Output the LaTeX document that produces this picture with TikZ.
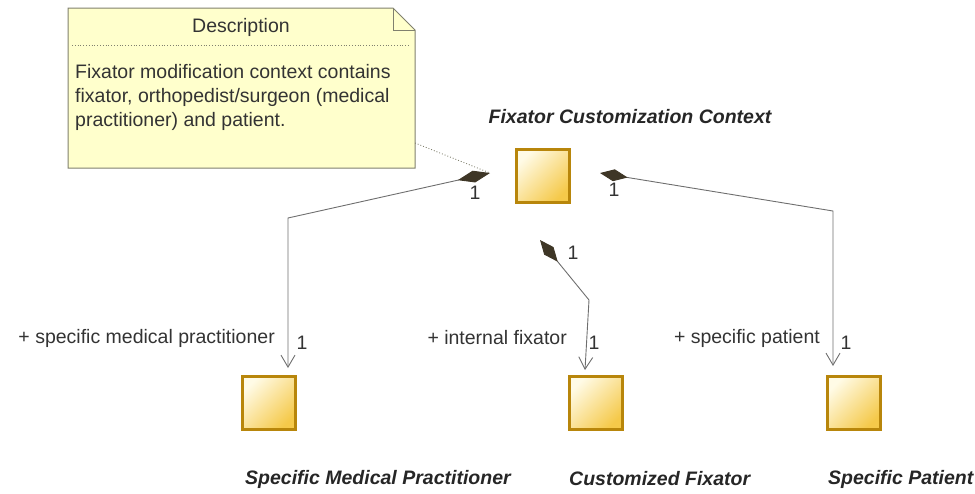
\documentclass[tikz,border=0pt]{standalone}
\usepackage{fontspec}
\setmainfont{Liberation Sans}
\usetikzlibrary{arrows.meta}
\definecolor{notefill}{HTML}{FFFFCC}
\definecolor{noteline}{HTML}{80806E}
\definecolor{boxline}{HTML}{B8860B}
\definecolor{boxlight}{HTML}{FFFBE6}
\definecolor{boxdark}{HTML}{F5C94A}
\definecolor{conn}{HTML}{6E6E6E}
\definecolor{diam}{HTML}{3E3626}
\tikzset{
  cls/.style={draw=boxline, line width=3pt, minimum width=53pt, minimum height=53pt, inner sep=0pt,
    top color=boxlight, bottom color=boxdark, shading angle=45},
  clsname/.style={font=\fontsize{19.5}{23}\selectfont\bfseries\itshape, text=black!85, inner sep=0pt},
  lbl/.style={font=\fontsize{19.5}{23}\selectfont, text=black!80, inner sep=0pt},
  comp/.style={draw=conn, line width=0.9pt, {Diamond[length=33pt,width=12pt,fill=diam,color=diam]}-{Straight Barb[length=12pt,width=14pt]}},
  comp2/.style={draw=conn, line width=0.9pt, {Diamond[length=28pt,width=12pt,fill=diam,color=diam]}-{Straight Barb[length=12pt,width=14pt]}},
}
\begin{document}
\begin{tikzpicture}[x=1pt,y=-1pt]
\useasboundingbox (0,0) rectangle (975,493);
% note
\draw[noteline, fill=notefill, line width=1pt] (68,8) -- (393,8) -- (415,30) -- (415,168) -- (68,168) -- cycle;
\draw[noteline, line width=1pt] (393,8) -- (393,30) -- (415,30);
\node[lbl, anchor=center] (notetitle) at (241,27) {Description};
\draw[noteline, dotted, line width=0.8pt] (72,45) -- (410,45);
\node[lbl, anchor=north west, align=left, font=\fontsize{19.5}{24}\selectfont] (notetext) at (75,64)
  {Fixator modification context contains\\fixator, orthopedist/surgeon (medical\\practitioner) and patient.};
\coordinate (noteanchor) at (415,143);
% classes
\node[cls] (ctx) at (543,176) {};
\node[clsname] (ctxname) at (630,117) {Fixator Customization Context};
\node[cls] (smp) at (269,403) {};
\node[clsname, anchor=west] (smpname) at (245,479) {Specific Medical Practitioner};
\node[cls] (cf) at (596,403) {};
\node[clsname, anchor=west] (cfname) at (569,479) {Customized Fixator};
\node[cls] (sp) at (854,403) {};
\node[clsname, anchor=west] (spname) at (828,479) {Specific Patient};
% anchor coordinates
\coordinate (d1) at (490,173);
\coordinate (b1) at (288,218);
\coordinate (a1) at (288,368);
\coordinate (d2) at (540,240);
\coordinate (b2) at (589,300);
\coordinate (a2) at (585,370);
\coordinate (d3) at (600,173);
\coordinate (b3) at (833,211);
\coordinate (a3) at (833,366);
% note link
\draw[noteline, dotted, line width=0.9pt] (noteanchor) -- (d1);
% connectors
\draw[comp] (d1) -- (b1) -- (a1);
\draw[comp2] (d2) -- (b2) -- (a2);
\draw[comp2] (d3) -- (b3) -- (a3);
% multiplicities
\node[lbl] (m1a) at (475,193) {1};
\node[lbl] (m1b) at (302,343) {1};
\node[lbl] (m2a) at (573,253) {1};
\node[lbl] (m2b) at (594,343) {1};
\node[lbl] (m3a) at (614,190) {1};
\node[lbl] (m3b) at (846,343) {1};
% role names
\node[lbl, anchor=east] (r1) at (275,338) {+ specific medical practitioner};
\node[lbl, anchor=east] (r2) at (567,338) {+ internal fixator};
\node[lbl, anchor=east] (r3) at (820,338) {+ specific patient};
\end{tikzpicture}
\end{document}
